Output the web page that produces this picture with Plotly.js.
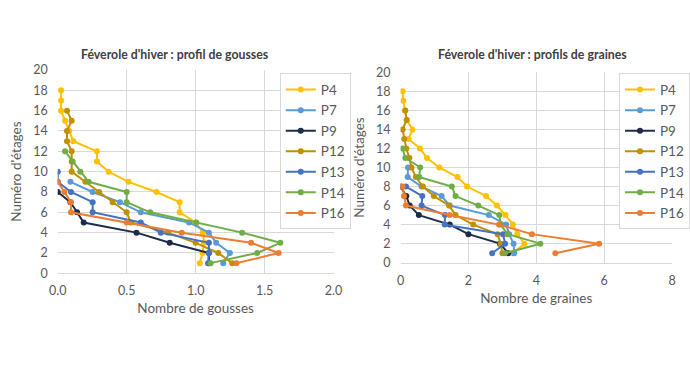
<!DOCTYPE html>
<html>
<head>
<meta charset="utf-8">
<script src="https://cdn.plot.ly/plotly-3.0.1.min.js"></script>
<style>html,body{margin:0;padding:0;background:#fff;}#chart{width:690px;height:388px;}</style>
</head>
<body>
<div id="chart"></div>
<script>
// Étages (levels), top to bottom
const etages = [18,17,16,15,14,13,12,11,10,9,8,7,6,5,4,3,2,1];
const seriesNames = ["P4","P7","P9","P12","P13","P14","P16"];
const seriesColors = ["#FFC000","#5B9BD5","#1F2B4A","#BF9000","#4472C4","#70AD47","#ED7D31"];

// Nombre de gousses (left chart)
const goussesP4  = [0.024,0.024,0.024,0.053,0.084,0.113,0.284,0.284,0.369,0.513,0.716,0.884,0.884,1.0,1.053,1.06,1.05,1.03];
const goussesP7  = [0.092,0.253,0.451,0.602,0.952,1.096,1.149,1.248,1.2];
const goussesP9  = [0.0,0.092,0.14,0.188,0.571,0.812,1.096,1.096];
const goussesP12 = [0.067,0.101,0.067,0.067,0.101,0.101,0.101,0.2,0.3,0.398,0.5,0.53,0.8,1.0,1.164,1.265];
const goussesP13 = [0.0,0.0,0.096,0.253,0.253,0.602,0.747,1.096,1.096,1.09];
const goussesP14 = [0.053,0.108,0.164,0.224,0.5,0.5,0.67,1.005,1.337,1.614,1.446,1.108];
const goussesP16 = [0.0,0.048,0.096,0.096,0.5,0.899,1.402,1.602,1.296];

// Nombre de graines (right chart)
const grainesP4  = [0.06,0.08,0.13,0.18,0.35,0.24,0.57,0.78,1.14,1.68,1.96,2.52,2.84,3.09,3.31,3.44,3.65,3.3];
const grainesP7  = [0.22,0.21,0.62,1.21,1.45,2.6,3.11,3.2,3.33,3.35];
const grainesP9  = [0.0,0.17,0.27,0.54,1.45,2.0,2.93,3.17];
const grainesP12 = [0.14,0.18,0.06,0.11,0.17,0.26,0.32,0.45,0.66,0.98,1.43,1.62,2.14,2.86,2.95,3.0];
const grainesP13 = [0.16,0.64,0.62,1.31,1.3,3.02,3.08,2.7];
const grainesP14 = [0.06,0.14,0.58,0.55,1.51,1.62,2.29,2.91,2.95,3.15,4.12,3.08];
const grainesP16 = [0.06,0.1,0.16,1.45,2.9,3.87,5.85,4.56];

const gousses = [goussesP4,goussesP7,goussesP9,goussesP12,goussesP13,goussesP14,goussesP16];
const graines = [grainesP4,grainesP7,grainesP9,grainesP12,grainesP13,grainesP14,grainesP16];

const FONT = "Lato, 'Open Sans', sans-serif";
const traces = [];
function levelsFor(vals){ return etages.slice(etages.length - vals.length); }
gousses.forEach((vals,i)=>{
  traces.push({x: vals, y: levelsFor(vals), name: seriesNames[i], type:'scatter', mode:'lines+markers',
    xaxis:'x', yaxis:'y', legend:'legend',
    line:{color: seriesColors[i], width:2}, marker:{color: seriesColors[i], size:6}});
});
graines.forEach((vals,i)=>{
  traces.push({x: vals, y: levelsFor(vals), name: seriesNames[i], type:'scatter', mode:'lines+markers',
    xaxis:'x2', yaxis:'y2', legend:'legend2',
    line:{color: seriesColors[i], width:2}, marker:{color: seriesColors[i], size:6}});
});

const W = 690, H = 388;
const grid = '#D9D9D9';
const tickFont = {family: FONT, size: 12.5, color:'#595959'};
const axTitleFont = {family: FONT, size: 13.5, color:'#595959'};
function xa(domain, range, dtick, fmt, title){
  return {domain: domain, range: range, dtick: dtick, tick0:0, tickformat: fmt, showgrid:true, gridcolor:grid,
    zeroline:false, showline:true, linecolor:grid, ticks:'', tickfont: tickFont, ticklabelstandoff:6,
    title:{text:title, font: axTitleFont, standoff:6}, fixedrange:true};
}
function ya(domain, anchor, title){
  return {domain: domain, range:[0,20], dtick:2, tick0:0, showgrid:true, gridcolor:grid, zeroline:false,
    showline:false, ticks:'', tickfont: tickFont, ticklabelstandoff:9, anchor: anchor,
    title:{text:title, font: axTitleFont, standoff:8}, fixedrange:true};
}
const legendBase = {bgcolor:'#FFFFFF', bordercolor:grid, borderwidth:1, font:{family:FONT, size:13.5, color:'#595959'},
  xanchor:'left', yanchor:'top', tracegroupgap:0};

const layout = {
  width: W, height: H, margin:{l:0,r:0,t:0,b:0}, paper_bgcolor:'#fff', plot_bgcolor:'#fff',
  showlegend:true,
  xaxis: Object.assign(xa([58/W, 335/W], [0,2], 0.5, '.1f', 'Nombre de gousses'), {anchor:'y'}),
  yaxis: ya([1-273.3/H, 1-70/H], 'x', "Numéro d'étages"),
  xaxis2: Object.assign(xa([402.3/W, 675/W], [0,8], 2, 'd', 'Nombre de graines'), {anchor:'y2'}),
  yaxis2: ya([1-262.7/H, 1-72.3/H], 'x2', "Numéro d'étages"),
  legend: Object.assign({}, legendBase, {x: 281/W, y: 1-73.3/H}),
  legend2: Object.assign({}, legendBase, {x: 622/W, y: 1-73.3/H}),
  annotations: [
    {text:"Féverole d'hiver : profil de gousses", xref:'paper', yref:'paper', x:176/W, y:1-55/H, showarrow:false,
      xanchor:'center', yanchor:'middle', font:{family:FONT, size:12.3, color:'#404040', weight:'bold'}},
    {text:"Féverole d'hiver : profils de graines", xref:'paper', yref:'paper', x:535/W, y:1-55/H, showarrow:false,
      xanchor:'center', yanchor:'middle', font:{family:FONT, size:12.3, color:'#404040', weight:'bold'}}
  ]
};
Plotly.newPlot('chart', traces, layout, {displayModeBar:false, staticPlot:true});
</script>
</body>
</html>
